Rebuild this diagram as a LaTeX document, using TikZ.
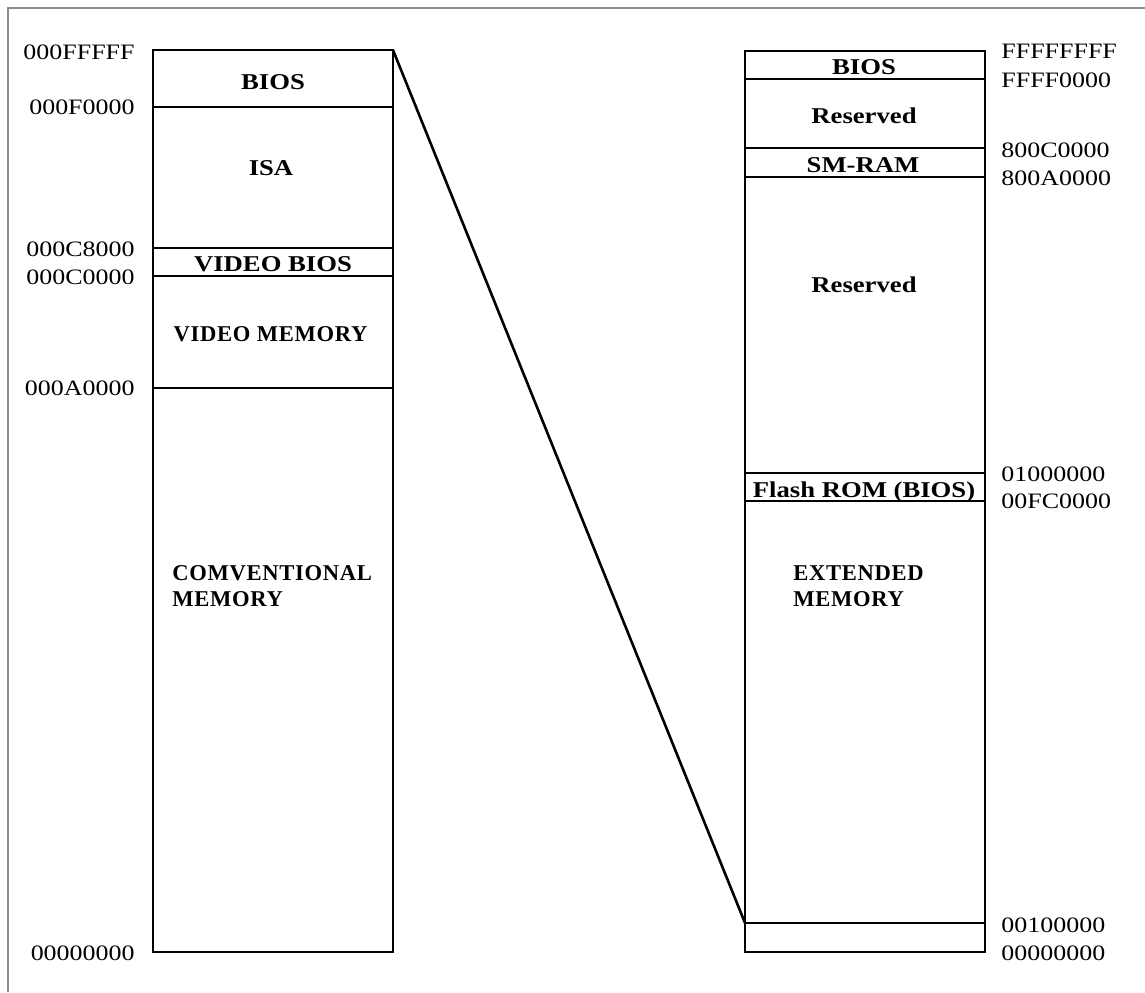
\documentclass[tikz,border=0pt]{standalone}
\usepackage{fontspec}
\setmainfont{Liberation Serif}[FakeStretch=1.18]
\newfontfamily\memfont{Liberation Serif}[LetterSpace=3]
\begin{document}
\begin{tikzpicture}[x=0.5pt,y=-0.5pt,
  frame/.style={draw=gray!90, line width=1.2pt},
  mem/.style={draw=black, line width=1.3pt},
  addr/.style={inner sep=0pt, text height=7.3pt, text depth=0pt, font=\fontsize{11}{13}\selectfont},
  addrL/.style={addr, anchor=east},
  addrR/.style={addr, anchor=west},
  lbl/.style={inner sep=0pt, text height=7.5pt, text depth=0pt, font=\fontsize{11.3}{13.25}\selectfont\bfseries},
  widelbl/.style={lbl, font=\fontsize{11.3}{13.25}\selectfont\memfont\bfseries},
  biglbl/.style={inner sep=0pt, anchor=north west, align=left, font=\fontsize{11.3}{13.25}\selectfont\memfont\bfseries}]
\useasboundingbox (0,0) rectangle (1145,992);
% outer frame (top and left only)
\draw[frame] (1145,8) -- (8,8) -- (8,992);

% left memory column
\draw[mem] (153,50) rectangle (393,952);
\foreach \yy in {107,248,276,388} \draw[mem] (153,\yy) -- (393,\yy);
% right memory column
\draw[mem] (745,51) rectangle (985,952);
\foreach \yy in {79,148,177,473,501,923} \draw[mem] (745,\yy) -- (985,\yy);

% connector
\coordinate (ltop) at (393,50);
\coordinate (rlow) at (745,923);
\draw[mem] (ltop) -- (rlow);

% left addresses
\node[addrL] (a1) at (135,52) {000FFFFF};
\node[addrL] (a2) at (135,107.5) {000F0000};
\node[addrL] (a3) at (135,249.5) {000C8000};
\node[addrL] (a4) at (135,277) {000C0000};
\node[addrL] (a5) at (135,388) {000A0000};
\node[addrL] (a6) at (135,953) {00000000};

% right addresses
\node[addrR] (b1) at (1001,51) {FFFFFFFF};
\node[addrR] (b2) at (1001,80) {FFFF0000};
\node[addrR] (b3) at (1001,150) {800C0000};
\node[addrR] (b4) at (1001,178) {800A0000};
\node[addrR] (b5) at (1001,474.5) {01000000};
\node[addrR] (b6) at (1001,501) {00FC0000};
\node[addrR] (b7) at (1001,925) {00100000};
\node[addrR] (b8) at (1001,953) {00000000};

% left labels
\node[lbl] (l1) at (273,82) {BIOS};
\node[lbl] (l2) at (271,168) {ISA};
\node[lbl] (l3) at (273,264) {VIDEO BIOS};
\node[widelbl] (l4) at (270.5,334) {VIDEO MEMORY};
\node[biglbl] (l5) at (172,565) {COMVENTIONAL\\MEMORY};

% right labels
\node[lbl] (r1) at (864,66.5) {BIOS};
\node[lbl] (r2) at (864,116) {Reserved};
\node[lbl] (r3) at (863,165) {SM-RAM};
\node[lbl] (r4) at (864,285) {Reserved};
\node[lbl] (r5) at (864,490) {Flash ROM (BIOS)};
\node[biglbl] (r6) at (793,565) {EXTENDED\\MEMORY};
\end{tikzpicture}
\end{document}
